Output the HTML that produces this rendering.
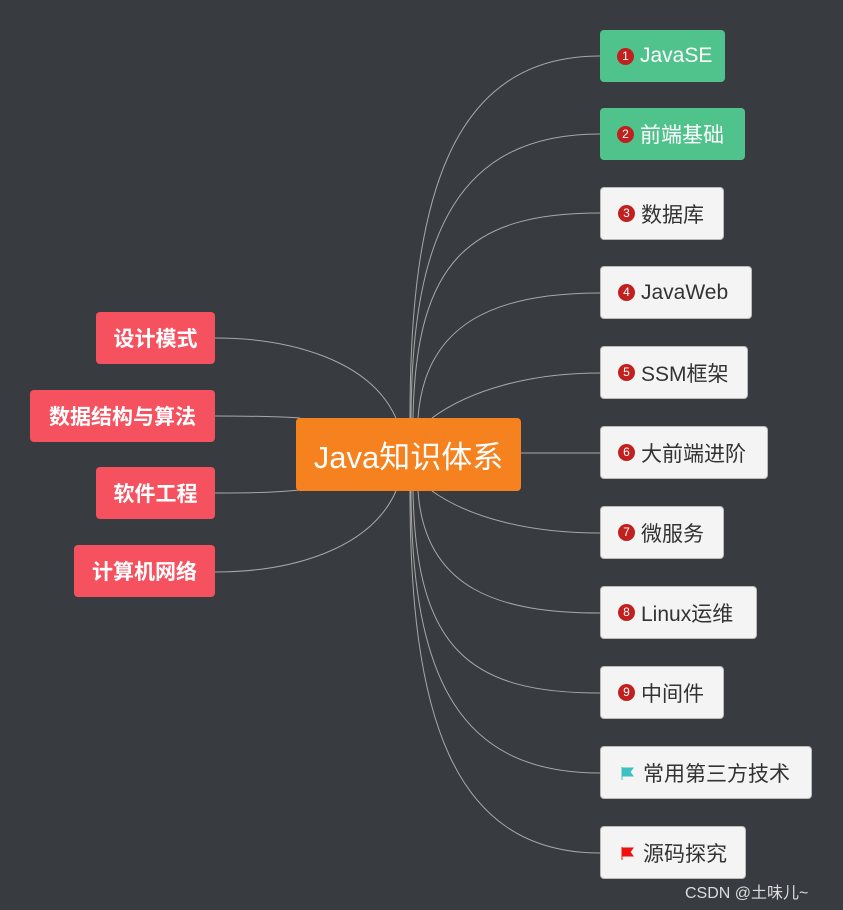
<!DOCTYPE html>
<html><head><meta charset="utf-8"><style>
html,body{margin:0;padding:0;background:#383b40;}
body{width:843px;height:910px;overflow:hidden;position:relative;font-family:"Liberation Sans","Noto Sans CJK SC",sans-serif;}
.n{position:absolute;box-sizing:border-box;border-radius:4px;display:flex;align-items:center;font-size:21px;}
.r{left:600px;height:53px;background:#f4f4f4;color:#333;border:1px solid #bbb;padding-left:17px;}
.g{background:#50c38c;color:#fff;border:none;}
.l{background:#f5515f;color:#fff;justify-content:center;font-weight:bold;height:52px;}
.b{display:inline-block;width:17px;height:17px;border-radius:50%;background:#c0201e;color:#fff;font-size:12px;line-height:17px;text-align:center;margin-right:6px;font-weight:normal;}
</style></head><body>
<svg width="843" height="910" style="position:absolute;left:0;top:0" fill="none" stroke="#a8a8a8" stroke-width="1">
<path d="M410,418 C410,200 450,56 600,56"/>
<path d="M411,418 C412,230 460,134 600,134"/>
<path d="M413,418 C416,260 470,213 600,213"/>
<path d="M418,418 C425,320 500,293 600,293"/>
<path d="M432,418 C470,390 530,373 600,373"/>
<path d="M521,453 L600,453"/>
<path d="M432,491 C470,518 530,533 600,533"/>
<path d="M418,491 C425,590 500,613 600,613"/>
<path d="M413,491 C416,650 470,693 600,693"/>
<path d="M411,491 C412,680 460,773 600,773"/>
<path d="M410,491 C410,710 450,853 600,853"/>
<path d="M396,418 C370,360 290,338 215,338"/>
<path d="M300,418 C270,416 240,416 215,416"/>
<path d="M300,490 C270,493 240,493 215,493"/>
<path d="M396,491 C370,550 290,572 215,572"/>
</svg>
<div class="n" style="left:296px;top:418px;width:225px;height:73px;background:#f5811f;color:#fff;font-size:31px;justify-content:center;">Java知识体系</div>
<div class="n l" style="left:96px;top:312px;width:119px;">设计模式</div>
<div class="n l" style="left:30px;top:390px;width:185px;">数据结构与算法</div>
<div class="n l" style="left:96px;top:467px;width:119px;">软件工程</div>
<div class="n l" style="left:74px;top:545px;width:141px;">计算机网络</div>
<div class="n r g" style="top:30px;width:125px;height:52px;"><span class="b">1</span>JavaSE</div>
<div class="n r g" style="top:108px;width:145px;height:52px;"><span class="b">2</span>前端基础</div>
<div class="n r" style="top:187px;width:124px;"><span class="b">3</span>数据库</div>
<div class="n r" style="top:266px;width:152px;"><span class="b">4</span>JavaWeb</div>
<div class="n r" style="top:346px;width:148px;"><span class="b">5</span>SSM框架</div>
<div class="n r" style="top:426px;width:168px;"><span class="b">6</span>大前端进阶</div>
<div class="n r" style="top:506px;width:124px;"><span class="b">7</span>微服务</div>
<div class="n r" style="top:586px;width:157px;"><span class="b">8</span>Linux运维</div>
<div class="n r" style="top:666px;width:124px;"><span class="b">9</span>中间件</div>
<div class="n r" style="top:746px;width:212px;"><svg width="14" height="14" style="margin:0 9px 0 2px"><path d="M2,1 V14 M2,2 H13 L10,6 L13,10 H2Z" fill="#3cc0c0" stroke="#3cc0c0"/></svg>常用第三方技术</div>
<div class="n r" style="top:826px;width:146px;"><svg width="14" height="14" style="margin:0 9px 0 2px"><path d="M2,1 V14 M2,2 H13 L10,6 L13,10 H2Z" fill="#f01010" stroke="#f01010"/></svg>源码探究</div>
<div style="position:absolute;left:685px;top:879px;color:#ddd;font-size:16px;">CSDN @土味儿~</div>
</body></html>
